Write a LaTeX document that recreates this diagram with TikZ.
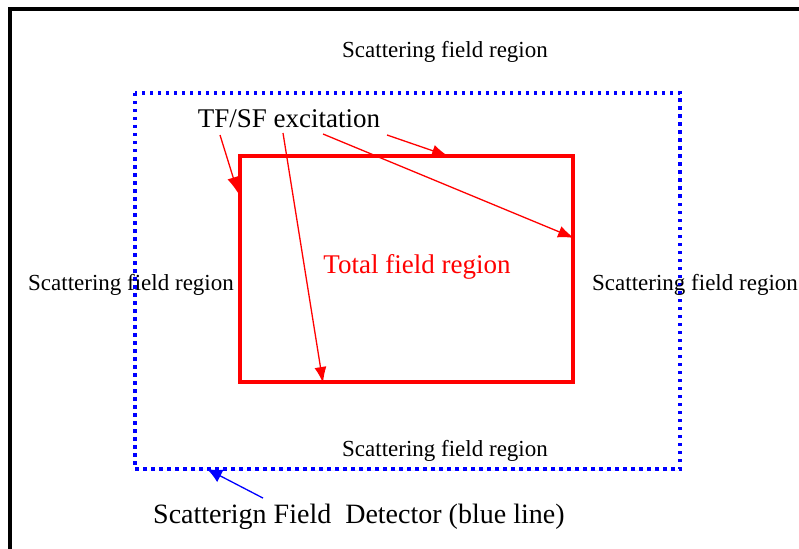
\documentclass[tikz,border=0pt]{standalone}
\usepackage{fontspec}
\setmainfont{Liberation Serif}
\usetikzlibrary{arrows.meta}

\begin{document}
\begin{tikzpicture}[x=1pt,y=-1pt,
  frame/.style={line width=3.5pt},
  detector/.style={blue,line width=3.5pt,dash pattern=on 3.5pt off 4.5pt},
  tfbox/.style={draw=red,line width=3.5pt,minimum width=333pt,minimum height=226pt,inner sep=0pt},
  small/.style={font=\fontsize{23}{27}\selectfont,inner sep=0pt},
  big/.style={font=\fontsize{27}{32}\selectfont,inner sep=0pt},
  excite/.style={red,line width=1.3pt,-{Latex[length=16pt,width=12pt]}},
  pointer/.style={blue,line width=1.3pt,-{Latex[length=15pt,width=14pt]}}]
  \useasboundingbox (0,0) rectangle (799,548);
  \clip (0,0) rectangle (799,548);
  % outer frame, cut off at right and bottom
  \draw[frame] (10,9) rectangle (815,565);
  % detector line
  \draw[detector] (135,93) rectangle (680,469);
  % total field box
  \node[tfbox] (tf) at (406.5,269) {};
  \node[small] (top) at (445,52) {Scattering field region};
  \node[small] (left) at (131,285) {Scattering field region};
  \node[small,anchor=west] (right) at (592,285) {Scattering field region};
  \node[small] (bottom) at (445,451) {Scattering field region};
  \node[big,red] (total) at (417,267) {Total field region};
  \node[big] (tfsf) at (289,119) {TF/SF excitation};
  \node[big,font=\fontsize{28}{33}\selectfont,anchor=west] (det) at (153,517) {Scatterign Field \ Detector (blue line)};
  % arrow ends
  \coordinate (a1) at (220,135);
  \coordinate (a2) at (283,133);
  \coordinate (a3) at (323,134);
  \coordinate (a4) at (387,135);
  \coordinate (t1) at (238,193);
  \coordinate (t2) at (323,383);
  \coordinate (t3) at (574,238);
  \coordinate (t4) at (448,156);
  \draw[excite] (a1) -- (t1);
  \draw[excite] (a2) -- (t2);
  \draw[excite] (a3) -- (t3);
  \draw[excite] (a4) -- (t4);
  \coordinate (d) at (207,469);
  \draw[pointer] (det.north west) ++(110,-6) -- (d);
\end{tikzpicture}
\end{document}
